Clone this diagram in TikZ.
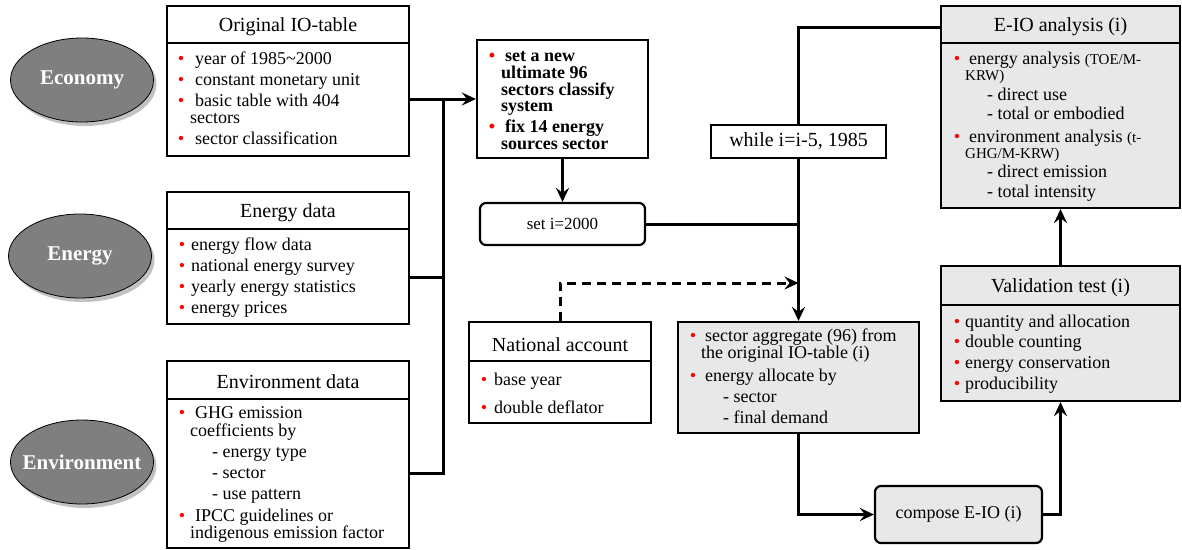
\documentclass[tikz,border=0pt]{standalone}
\usepackage{fontspec}
\setmainfont{Liberation Serif}
\usepackage{xcolor}
\usetikzlibrary{arrows.meta,positioning,shapes.geometric,shadows}
\definecolor{boxgray}{HTML}{E8E8E8}
\definecolor{ovalgray}{HTML}{7F7F7F}
\newcommand\bul[1]{\llap{\textcolor{red}{\textbullet}\hspace{#1pt}}}
\newcommand\unitsize{\fontsize{15}{16}\selectfont}

\tikzset{
  box/.style 2 args={draw, line width=2.2pt, minimum width=#1, minimum height=#2, inner sep=0pt},
  greybox/.style={fill=boxgray},
  roundbox/.style={rounded corners=6pt},
  sepline/.style={line width=2.2pt},
  title/.style={inner sep=0pt, yshift=-2pt, font=\fontsize{20}{22}\selectfont},
  item/.style={anchor=mid west, inner sep=0pt, yshift=-3.5pt, font=\fontsize{18}{20}\selectfont},
  source/.style={ellipse, draw, line width=0.8pt, fill=ovalgray, text=white, inner sep=0pt,
    font=\bfseries\fontsize{21}{23}\selectfont, minimum width=143, minimum height=84,
    drop shadow={shadow xshift=3pt, shadow yshift=-4pt, fill=black!30, opacity=0.8}},
  link/.style={line width=3pt},
  arrow/.style={link, -{Stealth[length=14pt,width=13pt,inset=5pt]}},
  dasharrow/.style={arrow, dash pattern=on 9pt off 6pt}
}

\begin{document}
\begin{tikzpicture}[x=1pt, y=-1pt]
  \useasboundingbox (0,0) rectangle (1182,549);

  % sources
  \node[source] (eco) at (82,80) {\makebox[0pt]{Economy}};
  \node[source] (ene) at (80,256) {\makebox[0pt]{Energy}};
  \node[source] (envi) at (82,462) {\makebox[0pt]{Environment}};

  % Original IO-table
  \node[box={242}{150}] (orig) at (288,81) {};
  \draw[sepline] (167,43) -- (409,43);
  \node[title] (orig-t) at (288,25) {Original IO-table};
  \foreach \x/\y/\t [count=\i] in {195/59/{\bul{11}year of 1985\textasciitilde2000},
      195/80/{\bul{11}constant monetary unit}, 195/101/{\bul{11}basic table with 404},
      190/118/{sectors}, 195/139/{\bul{11}sector classification}}
    \node[item] (orig-\i) at (\x,\y) {\t};

  % Energy data
  \node[box={242}{132}] (energy) at (288,258) {};
  \draw[sepline] (167,229) -- (409,229);
  \node[title] (energy-t) at (288,211) {Energy data};
  \foreach \x/\y/\t [count=\i] in {191/245/{\bul{6}energy flow data},
      191/266/{\bul{6}national energy survey}, 191/287/{\bul{6}yearly energy statistics},
      191/308/{\bul{6}energy prices}}
    \node[item] (energy-\i) at (\x,\y) {\t};

  % Environment data
  \node[box={242}{187}] (env) at (288,454.5) {};
  \draw[sepline] (167,399) -- (409,399);
  \node[title] (env-t) at (288,380) {Environment data};
  \foreach \x/\y/\t [count=\i] in {195/413/{\bul{10}GHG emission}, 190/431/{coefficients by},
      212/452/{- energy type}, 212/473/{- sector}, 212/494/{- use pattern},
      195/516/{\bul{10}IPCC guidelines or}, 190/533/{indigenous emission factor}}
    \node[item] (env-\i) at (\x,\y) {\t};

  % new classification
  \node[box={171}{118}] (newsys) at (562.5,99) {};
  \foreach \x/\y/\t [count=\i] in {505/56/{\bul{10}set a new}, 501/73/{ultimate 96},
      501/90/{sectors classify}, 501/106/{system}, 505/127/{\bul{10}fix 14 energy},
      501/144/{sources sector}}
    \node[item, font=\bfseries\fontsize{18}{20}\selectfont] (newsys-\i) at (\x,\y) {\t};

  \node[box={165}{42}, roundbox, font=\fontsize{17}{19}\selectfont] (seti) at (562.5,224) {set i=2000};
  \node[box={175}{33}, font=\fontsize{20}{22}\selectfont] (while) at (798.5,141.5) {while i=i-5, 1985};

  % National account
  \node[box={182}{101}] (natacc) at (560,372.5) {};
  \draw[sepline] (469,361) -- (651,361);
  \node[title] (natacc-t) at (560,343) {National account};
  \foreach \x/\y/\t [count=\i] in {494/380/{\bul{7}base year}, 494/408/{\bul{7}double deflator}}
    \node[item] (natacc-\i) at (\x,\y) {\t};

  % sector aggregate
  \node[box={241}{111}, greybox] (aggr) at (798.5,377.5) {};
  \foreach \x/\y/\t [count=\i] in {705/336/{\bul{9}sector aggregate (96) from},
      701/353/{the original IO-table (i)}, 705/376/{\bul{9}energy allocate by},
      723/397/{- sector}, 723/418/{- final demand}}
    \node[item] (aggr-\i) at (\x,\y) {\t};

  \node[box={167}{57}, greybox, roundbox, font=\fontsize{18}{20}\selectfont] (compose) at (958.5,514.5) {compose E-IO (i)};

  % Validation test
  \node[box={239}{135}, greybox] (valid) at (1060.5,333.5) {};
  \draw[sepline] (941,305) -- (1180,305);
  \node[title] (valid-t) at (1060.5,286) {Validation test (i)};
  \foreach \x/\y/\t [count=\i] in {965/322/{\bul{5}quantity and allocation},
      965/342/{\bul{5}double counting}, 965/363/{\bul{5}energy conservation},
      965/384/{\bul{5}producibility}}
    \node[item] (valid-\i) at (\x,\y) {\t};

  % E-IO analysis
  \node[box={239}{202}, greybox] (eio) at (1060.5,107) {};
  \draw[sepline] (941,43) -- (1180,43);
  \node[title] (eio-t) at (1060.5,25) {E-IO analysis (i)};
  \foreach \x/\y/\t [count=\i] in {969/59/{\bul{9}energy analysis {\unitsize(TOE/M-}},
      965/75/{\unitsize KRW)}, 987/95/{- direct use}, 987/114/{- total or embodied},
      969/137/{\bul{9}environment analysis {\unitsize(t-}}, 965/153/{\unitsize GHG/M-KRW)},
      987/172/{- direct emission}, 987/192/{- total intensity}}
    \node[item] (eio-\i) at (\x,\y) {\t};

  % connectors
  \coordinate (bus) at (443,99);
  \coordinate (energy-out) at (409,277);
  \coordinate (env-out) at (409,473);
  \coordinate (dash-end) at (798.5,283);
  \draw[arrow] (orig.east |- newsys.west) -- (newsys.west);
  \draw[link] (energy-out) -- (energy-out -| bus);
  \draw[link] (env-out) -| (bus);
  \draw[arrow] (newsys.south) -- (seti.north);
  \draw[link] (seti.east) -- (seti.east -| while.south);
  \draw[link] (eio-t -| eio.west) -| (while.north);
  \draw[arrow] (while.south) -- (aggr.north);
  \draw[dasharrow] (natacc.north) |- (dash-end);
  \draw[arrow] (aggr.south) |- (compose.west);
  \draw[arrow] (compose.east) -| (valid.south);
  \draw[arrow] (valid.north) -- (eio.south);
\end{tikzpicture}
\end{document}
